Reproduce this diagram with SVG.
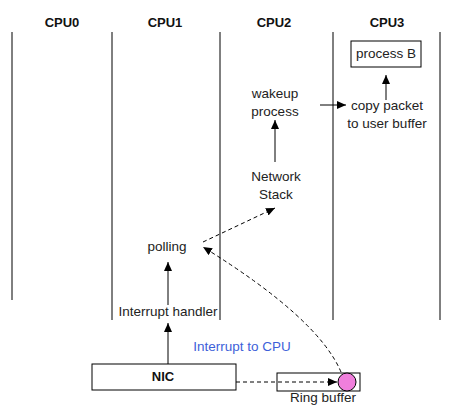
<svg xmlns="http://www.w3.org/2000/svg" width="452" height="419" viewBox="0 0 452 419">
<defs>
<style>
.lane{stroke:#000;stroke-width:1;fill:none}
.hdr{font-family:"Liberation Sans",Arial,sans-serif;font-size:13px;font-weight:bold;fill:#111;text-anchor:middle}
.t{font-family:"Liberation Sans",Arial,sans-serif;font-size:13.5px;fill:#222;text-anchor:middle}
.box{fill:#fff;stroke:#000;stroke-width:1}
.c{stroke:#000;stroke-width:1;fill:none;marker-end:url(#ah)}
.d{stroke-dasharray:4 3}
</style>
<marker id="ah" markerUnits="userSpaceOnUse" markerWidth="9" markerHeight="8" refX="9" refY="4" orient="auto">
<path d="M0,0 L9,4 L0,8 z" fill="#000"/>
</marker>
</defs>
<rect width="452" height="419" fill="#fff"/>
<g id="lanes">
<line class="lane" x1="12" y1="32" x2="12" y2="300"/>
<line class="lane" x1="112" y1="32" x2="112" y2="320"/>
<line class="lane" x1="220" y1="32" x2="220" y2="320"/>
<line class="lane" x1="333" y1="32" x2="333" y2="320"/>
<line class="lane" x1="440" y1="32" x2="440" y2="320"/>
</g>
<g id="headers">
<text class="hdr" x="62" y="27">CPU0</text>
<text class="hdr" x="165" y="27">CPU1</text>
<text class="hdr" x="274" y="27">CPU2</text>
<text class="hdr" x="387" y="27">CPU3</text>
</g>
<g id="processB">
<rect class="box" x="351" y="41" width="70" height="26"/>
<text class="t" x="386" y="58">process B</text>
</g>
<g id="copyPacket">
<text class="t" x="387" y="110">copy packet</text>
<text class="t" x="387" y="128">to user buffer</text>
</g>
<g id="wakeup">
<text class="t" x="275" y="98">wakeup</text>
<text class="t" x="275" y="116">process</text>
</g>
<g id="networkStack">
<text class="t" x="276" y="181">Network</text>
<text class="t" x="276" y="199">Stack</text>
</g>
<g id="polling">
<text class="t" x="167" y="251">polling</text>
</g>
<g id="interruptHandler">
<text class="t" x="168" y="316">Interrupt handler</text>
</g>
<g id="interruptLabel">
<text class="t" x="242" y="351" style="fill:#3d5fd9">Interrupt to CPU</text>
</g>
<g id="nic">
<rect class="box" x="92" y="364" width="144" height="26"/>
<text class="hdr" x="163" y="381">NIC</text>
</g>
<g id="ringBuffer">
<rect class="box" x="277" y="373" width="83" height="18"/>
<circle cx="347" cy="382" r="9" fill="#f07fdc" stroke="#000" stroke-width="1"/>
<text class="t" x="323" y="402">Ring buffer</text>
</g>
<g id="connectors">
<line class="c" x1="386" y1="100" x2="386" y2="75"/>
<line class="c" x1="320" y1="105" x2="346" y2="105"/>
<line class="c" x1="275" y1="162" x2="275" y2="120"/>
<line class="c d" x1="203" y1="242" x2="275" y2="208"/>
<path class="c d" d="M341 372 Q318 318 203 247"/>
<line class="c" x1="168" y1="305" x2="168" y2="262"/>
<line class="c" x1="168" y1="364" x2="168" y2="323"/>
<line class="c d" x1="236" y1="382" x2="337" y2="382"/>
</g>
</svg>
